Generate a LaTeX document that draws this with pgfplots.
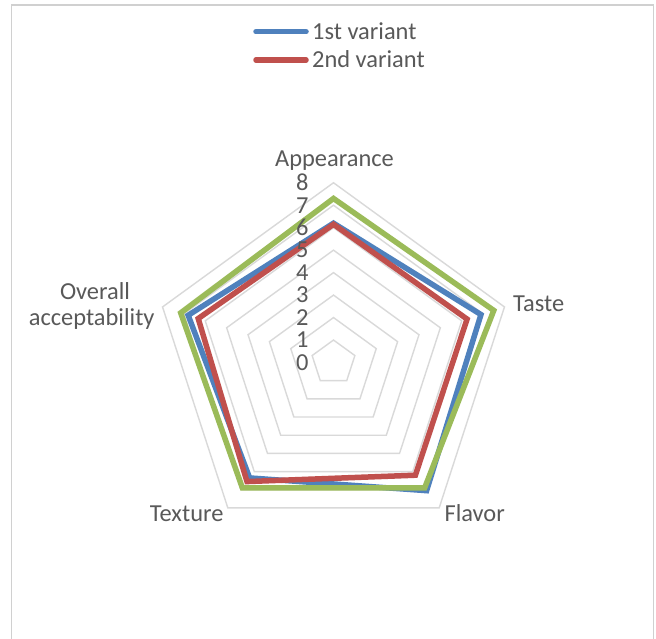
\documentclass[border=0pt]{standalone}
\usepackage{pgfplots}
\pgfplotsset{compat=1.18}
\usepackage{fontspec}
\setmainfont{Carlito}
\definecolor{sblue}{HTML}{4F81BD}
\definecolor{sred}{HTML}{C0504D}
\definecolor{sgreen}{HTML}{9BBB59}
\definecolor{gridc}{HTML}{D9D9D9}
\definecolor{txt}{HTML}{595959}
\definecolor{frame}{HTML}{D0D0D0}

\begin{document}
\begin{tikzpicture}[font=\fontsize{24.5}{29}\selectfont]
\path[use as bounding box] (0bp,0bp) rectangle (656bp,-639bp);
\begin{scope}
\clip (0bp,0bp) rectangle (656bp,-639bp);
\fill[white] (0bp,0bp) rectangle (656bp,-639bp);
\draw[frame, line width=1.3bp] (11.5bp,-700bp) -- (11.5bp,-5bp) -- (653.5bp,-5bp) -- (653.5bp,-700bp);
\end{scope}

% legend
\draw[sblue, line width=5.5bp, line cap=round] (256bp,-31.7bp) -- (306bp,-31.7bp);
\draw[sred, line width=5.5bp, line cap=round] (256bp,-60bp) -- (306bp,-60bp);
\node[anchor=base west, inner sep=0pt, text=txt] at (312bp,-39.5bp) {1st variant};
\node[anchor=base west, inner sep=0pt, text=txt] at (312bp,-67bp) {2nd variant};

% category labels
\node[anchor=base, inner sep=0pt, text=txt] at (334.5bp,-166bp) {Appearance};
\node[anchor=base, inner sep=0pt, text=txt] at (538.7bp,-311.7bp) {Taste};
\node[anchor=base, inner sep=0pt, text=txt] at (474.7bp,-521.7bp) {Flavor};
\node[anchor=base, inner sep=0pt, text=txt] at (186.7bp,-521.7bp) {Texture};
\node[anchor=base, inner sep=0pt, text=txt] at (95bp,-299.3bp) {Overall};
\node[anchor=base, inner sep=0pt, text=txt] at (91.7bp,-325bp) {acceptability};

\begin{axis}[
  at={(333.5bp,-362.5bp)}, anchor=origin,
  x=22.47bp, y=22.47bp,
  xmin=-9, xmax=9, ymin=-9, ymax=9,
  hide axis, clip=false,
  ring/.style={gridc, line width=1.4bp, data cs=polar, line join=miter},
  series/.style={line width=5.5bp, data cs=polar, line join=miter, miter limit=4},
]
\addplot[ring] coordinates {(90,1) (18,1) (-54,1) (-126,1) (162,1)} -- cycle;
\addplot[ring] coordinates {(90,2) (18,2) (-54,2) (-126,2) (162,2)} -- cycle;
\addplot[ring] coordinates {(90,3) (18,3) (-54,3) (-126,3) (162,3)} -- cycle;
\addplot[ring] coordinates {(90,4) (18,4) (-54,4) (-126,4) (162,4)} -- cycle;
\addplot[ring] coordinates {(90,5) (18,5) (-54,5) (-126,5) (162,5)} -- cycle;
\addplot[ring] coordinates {(90,6) (18,6) (-54,6) (-126,6) (162,6)} -- cycle;
\addplot[ring] coordinates {(90,7) (18,7) (-54,7) (-126,7) (162,7)} -- cycle;
\addplot[ring] coordinates {(90,8) (18,8) (-54,8) (-126,8) (162,8)} -- cycle;

% 1st variant
\addplot[series, sblue] coordinates {(90,6.2) (18,6.9) (-54,7.05) (-126,6.35) (162,6.8)} -- cycle;
% 2nd variant
\addplot[series, sred] coordinates {(90,6.15) (18,6.25) (-54,6.2) (-126,6.55) (162,6.33)} -- cycle;
% third series
\addplot[series, sgreen] coordinates {(90,7.3) (18,7.5) (-54,6.9) (-126,6.9) (162,7.15)} -- cycle;

\pgfplotsinvokeforeach{0,...,8}{
  \node[anchor=east, inner sep=0pt, text=txt] at (axis cs:-1.1,#1) {#1};
}
\end{axis}
\end{tikzpicture}
\end{document}
